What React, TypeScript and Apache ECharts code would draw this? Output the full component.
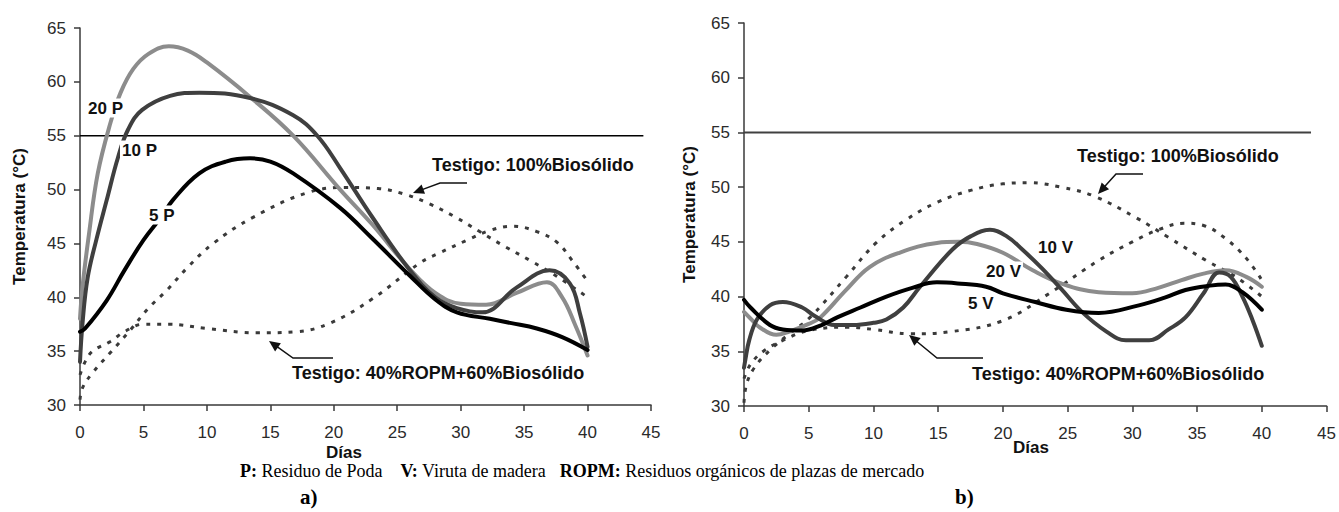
import React, { useEffect, useRef } from "react";
import * as echarts from "echarts";

// ---------- data (day, temperature °C) ----------
const X_MIN = 0, X_MAX = 45, X_STEP = 5;
const Y_MIN = 30, Y_MAX = 65, Y_STEP = 5;
const THRESHOLD = 55;
const thresholdEndA = 44.4;
const thresholdEndB = 43.8;

// a) Residuo de Poda
const p20: number[][] = [[0,38],[0.2,41],[0.7,45.8],[1.4,51.5],[2.4,56.2],[3.2,59],[4.2,61.2],[5.4,62.6],[7,63.3],[8.5,62.9],[10,61.8],[13.4,58.6],[16.8,55],[20.5,50],[23,46.8],[26,42.6],[28,40.4],[30,39.4],[32,39.3],[34.4,40.4],[36.8,41.4],[38,40],[39,37.5],[40,34.6]];
const p10: number[][] = [[0,34],[0.2,37.6],[0.6,41.8],[1.3,45.4],[2.1,49],[3,53],[3.8,55.6],[4.9,57.4],[7.1,58.7],[9.4,59],[13.4,58.5],[16.8,56.9],[18.7,55],[20.5,52],[23,47.5],[26,42.5],[28,40],[29.7,39],[31.7,38.6],[34.4,40.9],[37,42.5],[38.6,41.3],[39.4,38.5],[40,35.4]];
const p5: number[][] = [[0,36.8],[0.4,37.1],[2.1,39.7],[3.5,42.5],[5,45.3],[6.5,47.6],[7.3,49],[9.4,51.5],[11.5,52.6],[13.4,52.9],[15,52.6],[16.8,51.5],[20.5,48.3],[23,45.5],[26,42],[28,39.8],[29.7,38.6],[32.3,38],[34,37.6],[36,37.1],[38,36.3],[40,35.1]];
const bio100A: number[][] = [[0,30.5],[0.2,31.6],[1,33],[2.5,35],[4,37],[5.4,39],[6.8,40.6],[8.5,42.8],[10.5,45],[13.6,47.4],[17.9,49.7],[21,50.2],[23.5,50.1],[25.5,49.6],[27.5,48.7],[29.5,47.5],[31.5,46.1],[33.5,44.7],[35.5,43.4],[37.5,42],[40,40]];
const ropmA: number[][] = [[0,32.8],[0.4,34],[1,35],[2.4,35.9],[3.5,36.8],[5,37.5],[7,37.5],[10,37.1],[14,36.7],[17,36.8],[19.7,37.6],[23.1,39.9],[26.8,43.2],[28.3,44.1],[30.5,45.3],[32.3,46.2],[34.1,46.6],[36,46.1],[37.6,45.1],[38.8,43.4],[40,41.5]];

// b) Viruta de madera
const v5: number[][] = [[0,39.7],[0.5,39],[2,37.4],[3,37],[4.5,36.9],[6,37.4],[7.2,38.1],[9,39],[11,40],[13,40.8],[14.9,41.3],[16.5,41.2],[18.7,40.9],[20,40.3],[22.5,39.5],[24.9,38.8],[27.4,38.5],[30.5,39.2],[32.5,39.9],[34.1,40.6],[36,41],[37.2,41.1],[38.5,40.4],[40,38.8]];
const v20: number[][] = [[0,38.6],[0.5,38],[1.2,37.2],[2.5,36.5],[3.5,36.8],[5,37.5],[5.9,38.1],[7.8,40.5],[9.7,42.7],[12,44],[14.9,44.9],[16.6,45],[18,44.8],[20,44],[22.3,42.4],[24.5,41.2],[27.4,40.4],[30,40.3],[32,40.8],[33.8,41.5],[35.5,42.1],[37.2,42.4],[38.8,41.8],[40,40.9]];
const v10: number[][] = [[0,33.5],[0.1,34.2],[0.4,36],[1,37.9],[2,39.2],[3,39.5],[4.5,39],[5.5,38.2],[7,37.4],[8.4,37.4],[10,37.6],[11,37.9],[12.3,39],[13.6,40.9],[16.1,44.3],[17.5,45.5],[19,46.1],[20.3,45.5],[21.5,44.3],[23,42.6],[24.5,40.7],[26.1,38.6],[28,36.8],[29.5,36],[31.3,36],[32.8,37],[34.1,38.1],[35.5,40.3],[36.7,42.2],[37.6,41.8],[38.5,40],[39.3,37.8],[40,35.5]];
const bio100B: number[][] = [[0,30.3],[0.2,32],[0.8,33.5],[2,35.1],[3.5,36.6],[5.1,38.1],[7.9,41.8],[10.2,44.9],[12.5,47],[14.9,48.6],[17.5,49.7],[20,50.3],[22,50.4],[24.5,50],[27,49.2],[30.3,47.2],[32.8,45.4],[35.7,43.3],[38,41.8],[40,40]];
const ropmB: number[][] = [[0,32.5],[0.5,33.8],[1.5,35],[3,36],[5,36.9],[8,37.2],[10,37],[12.8,36.6],[16,36.8],[20,37.8],[23.6,40.3],[27.4,43.3],[30,45],[32,46.1],[34,46.7],[35.5,46.5],[37.2,45.3],[38.8,43.5],[40,41.5]];

const SANS = '"Liberation Sans", Arial, sans-serif';
const SERIF = '"Liberation Serif", "Times New Roman", serif';

function arrow(pts: number[][], color: string) {
  const n = pts.length;
  const [tx, ty] = pts[n - 1];
  const [px, py] = pts[n - 2];
  const dx = tx - px, dy = ty - py;
  const len = Math.sqrt(dx * dx + dy * dy);
  const ux = dx / len, uy = dy / len;
  const hl = 11, hw = 5;
  const bx = tx - ux * hl, by = ty - uy * hl;
  const line = pts.slice(0, n - 1).concat([[bx + ux * 2, by + uy * 2]]);
  return [
    { type: "polyline", z: 20, shape: { points: line }, style: { stroke: color, lineWidth: 1.5, fill: null } },
    { type: "polygon", z: 20, shape: { points: [[tx, ty], [bx - uy * hw, by + ux * hw], [bx + uy * hw, by - ux * hw]] }, style: { fill: color } },
  ];
}

function label(text: string, x: number, y: number, size = 17, bg = false) {
  return {
    type: "text", z: 30, x, y,
    style: {
      text, fill: "#111", font: `bold ${size}px ${SANS}`, align: "left", verticalAlign: "middle",
      backgroundColor: bg ? "#fff" : undefined, padding: bg ? [1, 2] : undefined,
    },
  };
}

function axes(idx: number, nameGap: number) {
  const axisLine = { show: true, lineStyle: { color: "#3a3a3a", width: 1.5 } };
  const axisTick = { show: true, inside: false, length: 6, lineStyle: { color: "#3a3a3a", width: 1.5 } };
  const axisLabel = { color: "#2a2a2a", fontSize: 17, fontFamily: SANS };
  return {
    x: {
      type: "value", gridIndex: idx, min: X_MIN, max: X_MAX, interval: X_STEP,
      axisLine, axisTick, axisLabel: { ...axisLabel, margin: 19 }, splitLine: { show: false },
    },
    y: {
      type: "value", gridIndex: idx, min: Y_MIN, max: Y_MAX, interval: Y_STEP,
      axisLine, axisTick, axisLabel: { ...axisLabel, margin: 14 }, splitLine: { show: false },
      name: "Temperatura (°C)", nameLocation: "middle", nameGap,
      nameTextStyle: { fontWeight: "bold", fontSize: 17, fontFamily: SANS, color: "#111" },
    },
  };
}

function solid(name: string, data: number[][], color: string, idx: number) {
  return {
    name, type: "line", xAxisIndex: idx, yAxisIndex: idx, data, smooth: 0.4, showSymbol: false, z: 5,
    lineStyle: { color, width: 4, cap: "round", join: "round" },
  };
}
function dotted(name: string, data: number[][], idx: number) {
  return {
    name, type: "line", xAxisIndex: idx, yAxisIndex: idx, data, smooth: 0.4, showSymbol: false, z: 3,
    lineStyle: { color: "#3a3a3a", width: 3, type: [4, 7] },
  };
}

export default function App() {
  const ref = useRef<HTMLDivElement>(null);
  useEffect(() => {
    if (!ref.current) return;
    const chart = echarts.init(ref.current, undefined, { renderer: "svg" });
    const a = axes(0, 52);
    const b = axes(1, 46);
    chart.setOption({
      animation: false,
      backgroundColor: "#fff",
      grid: [
        { left: 80, right: 688, top: 28, bottom: 107 },
        { left: 744, right: 11, top: 23, bottom: 106 },
      ],
      xAxis: [a.x, b.x],
      yAxis: [a.y, b.y],
      series: [
        { type: "line", xAxisIndex: 0, yAxisIndex: 0, data: [[X_MIN, THRESHOLD], [thresholdEndA, THRESHOLD]], showSymbol: false, lineStyle: { color: "#000", width: 1.5 }, z: 2 },
        { type: "line", xAxisIndex: 1, yAxisIndex: 1, data: [[X_MIN, THRESHOLD], [thresholdEndB, THRESHOLD]], showSymbol: false, lineStyle: { color: "#404040", width: 2 }, z: 2 },
        dotted("Testigo: 100%Biosólido", bio100A, 0),
        dotted("Testigo: 40%ROPM+60%Biosólido", ropmA, 0),
        solid("20 P", p20, "#8c8c8c", 0),
        solid("10 P", p10, "#3f3f3f", 0),
        solid("5 P", p5, "#000000", 0),
        dotted("Testigo: 100%Biosólido", bio100B, 1),
        dotted("Testigo: 40%ROPM+60%Biosólido", ropmB, 1),
        solid("20 V", v20, "#8c8c8c", 1),
        solid("10 V", v10, "#3f3f3f", 1),
        solid("5 V", v5, "#000000", 1),
      ],
      graphic: [
        label("20 P", 86, 108, 17, true),
        label("10 P", 120, 150, 17, true),
        label("5 P", 147, 215, 17, true),
        label("10 V", 1036, 247, 17, true),
        label("20 V", 984, 271, 17, true),
        label("5 V", 966, 303, 17, true),
        label("Testigo: 100%Biosólido", 432, 165, 18),
        label("Testigo: 40%ROPM+60%Biosólido", 292, 373, 18),
        label("Testigo: 100%Biosólido", 1077, 156, 18),
        label("Testigo: 40%ROPM+60%Biosólido", 972, 374, 18),
        ...arrow([[467, 183], [440, 183], [413, 193]], "#111"),
        ...arrow([[333, 358], [293, 358], [269, 341]], "#111"),
        ...arrow([[1143, 174], [1116, 174], [1098, 194]], "#111"),
        ...arrow([[983, 358], [937, 358], [909, 335]], "#111"),
        label("Días", 326, 452, 17),
        label("Días", 1013, 447, 17),
        {
          type: "text", x: 240, y: 471, z: 30,
          style: { text: "{b|P:} Residuo de Poda    {b|V:} Viruta de madera   {b|ROPM:} Residuos orgánicos de plazas de mercado", fill: "#000", font: `18px ${SERIF}`, align: "left", verticalAlign: "middle",
            rich: { b: { fontWeight: "bold", fontSize: 18, fontFamily: SERIF, fill: "#000" } } },
        },
        { type: "text", x: 300, y: 497, z: 30, style: { text: "a)", fill: "#000", font: `bold 21px ${SERIF}`, align: "left", verticalAlign: "middle" } },
        { type: "text", x: 955, y: 497, z: 30, style: { text: "b)", fill: "#000", font: `bold 21px ${SERIF}`, align: "left", verticalAlign: "middle" } },
      ],
    });
    return () => chart.dispose();
  }, []);
  return <div ref={ref} style={{ position: "absolute", left: 0, top: 0, width: 1339, height: 512 }} />;
}
